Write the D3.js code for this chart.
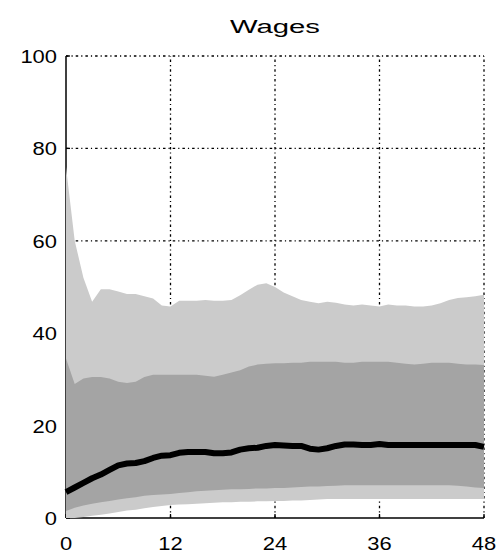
<!DOCTYPE html>
<html><head><meta charset="utf-8">
<script src="https://cdn.jsdelivr.net/npm/d3@7"></script>
<style>body{margin:0;background:#fff}svg{display:block}</style>
</head><body>
<script>
const title = "Wages";
const months = d3.range(0, 49);
const outerUpper = [76,60,52,46.8,49.5,49.5,49,48.5,48.5,48,47.5,46,45.8,47,47,47,47.2,47,47,47.2,48.2,49.4,50.5,50.8,50,48.8,48,47.2,46.8,46.5,46.8,46.6,46.2,46,46.2,46,45.8,46.2,46,46,45.8,45.8,46,46.5,47.2,47.6,47.8,48,48.3];
const innerUpper = [34.5,29,30.2,30.5,30.5,30.2,29.5,29.2,29.5,30.5,31,31,31,31,31,31,30.8,30.6,31,31.5,32,32.8,33.2,33.4,33.5,33.5,33.6,33.6,33.8,33.8,33.8,33.8,33.6,33.6,33.8,33.8,33.8,33.8,33.6,33.4,33.2,33.4,33.6,33.6,33.6,33.4,33.2,33.2,33.1];
const median = [5.6,6.6,7.6,8.6,9.4,10.4,11.4,11.8,11.9,12.3,13,13.5,13.6,14.1,14.3,14.3,14.3,14,14,14.2,14.8,15.1,15.2,15.6,15.8,15.7,15.6,15.6,15,14.8,15.1,15.6,15.9,15.9,15.8,15.8,16,15.8,15.8,15.8,15.8,15.8,15.8,15.8,15.8,15.8,15.8,15.8,15.4];
const innerLower = [1.5,2.2,2.7,3.1,3.4,3.7,4,4.3,4.5,4.8,5,5.1,5.2,5.4,5.6,5.8,5.9,6,6.1,6.2,6.2,6.3,6.4,6.4,6.5,6.5,6.6,6.7,6.8,6.8,6.9,7,7.1,7.1,7.1,7.1,7.1,7.1,7.1,7.1,7.1,7.1,7.1,7.1,7.1,7,6.8,6.6,6.5];
const outerLower = [0,0,0.2,0.5,0.7,1,1.3,1.6,1.8,2.1,2.4,2.6,2.8,2.9,3,3.1,3.2,3.3,3.4,3.4,3.5,3.5,3.6,3.6,3.7,3.7,3.8,3.8,3.9,4,4.1,4.1,4.1,4.1,4.1,4.1,4.1,4.1,4.1,4.1,4.1,4.1,4.1,4.1,4.1,4.1,4.1,4.1,4.1];
const xTicks = [0,12,24,36,48];
const yTicks = [0,20,40,60,80,100];

const W = 502, H = 554;
const svg = d3.select("body").append("svg").attr("width", W).attr("height", H);
const x = d3.scaleLinear().domain([0,48]).range([66,484]);
const y = d3.scaleLinear().domain([0,100]).range([518,56]);
const font = "'Liberation Sans', Arial, sans-serif";

// axis lines (drawn first; fills cover them)
svg.append("line").attr("x1",x(0)).attr("x2",x(0)).attr("y1",y(0)).attr("y2",y(100)).attr("stroke","#000").attr("stroke-width",1.5);
svg.append("line").attr("x1",x(0)).attr("x2",x(48)).attr("y1",y(0)).attr("y2",y(0)).attr("stroke","#000").attr("stroke-width",1.5);
// ticks
yTicks.forEach(v => svg.append("line").attr("x1",x(0)).attr("x2",x(0)+4).attr("y1",y(v)).attr("y2",y(v)).attr("stroke","#000").attr("stroke-width",1.3));
xTicks.forEach(v => svg.append("line").attr("x1",x(v)).attr("x2",x(v)).attr("y1",y(0)).attr("y2",y(0)-4).attr("stroke","#000").attr("stroke-width",1.3));

// grid
const dash = "2.5,3,1.2,3";
yTicks.filter(v=>v>0).forEach(v => svg.append("line").attr("x1",x(0)).attr("x2",x(48)).attr("y1",y(v)).attr("y2",y(v)).attr("stroke","#000").attr("stroke-width",1.3).attr("stroke-dasharray",dash));
xTicks.filter(v=>v>0).forEach(v => svg.append("line").attr("x1",x(v)).attr("x2",x(v)).attr("y1",y(0)).attr("y2",y(100)).attr("stroke","#000").attr("stroke-width",1.3).attr("stroke-dasharray",dash));

// bands
const outerArea = d3.area().x((d,i)=>x(months[i])).y0((d,i)=>y(outerLower[i])).y1((d,i)=>y(outerUpper[i]));
const innerArea = d3.area().x((d,i)=>x(months[i])).y0((d,i)=>y(innerLower[i])).y1((d,i)=>y(innerUpper[i]));
svg.append("path").attr("d", outerArea(months)).attr("fill","#cbcbcb");
svg.append("path").attr("d", innerArea(months)).attr("fill","#a4a4a4");
const line = d3.line().x((d,i)=>x(months[i])).y(d=>y(d));
svg.append("path").attr("d", line(median)).attr("fill","none").attr("stroke","#000").attr("stroke-width",6).attr("stroke-linejoin","round");

// labels
yTicks.forEach(v => {
  const s = String(v);
  svg.append("text").attr("x",57).attr("y",y(v)+7).attr("text-anchor","end")
    .attr("font-family",font).attr("font-size",19).attr("fill","#000")
    .attr("textLength",12.2*s.length).attr("lengthAdjust","spacingAndGlyphs").text(s);
});
xTicks.forEach(v => {
  const s = String(v);
  svg.append("text").attr("x",x(v)).attr("y",550).attr("text-anchor","middle")
    .attr("font-family",font).attr("font-size",19).attr("fill","#000")
    .attr("textLength",12.2*s.length).attr("lengthAdjust","spacingAndGlyphs").text(s);
});
svg.append("text").attr("x",275).attr("y",33).attr("text-anchor","middle")
  .attr("font-family",font).attr("font-size",18).attr("fill","#000")
  .attr("textLength",90).attr("lengthAdjust","spacingAndGlyphs").text(title);
</script>
</body></html>
